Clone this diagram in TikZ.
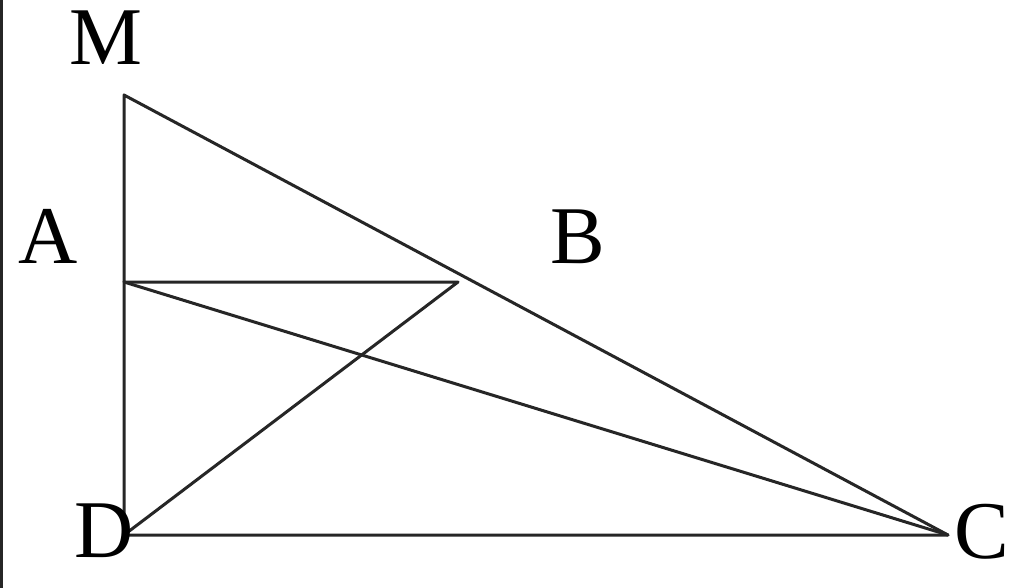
\documentclass[tikz,border=0pt]{standalone}
\usepackage{fontspec}
\setmainfont{Liberation Serif}
\begin{document}
\begin{tikzpicture}[x=1pt,y=-1pt,
  edge/.style={line width=3pt,color=black!85,line cap=round,line join=round},
  lbl/.style={inner sep=0pt,font=\fontsize{82}{90}\selectfont}]
\useasboundingbox (0,0) rectangle (1024,588);
\fill[white] (0,0) rectangle (1024,588);
\draw[line width=2.5pt,black!85] (1.5,0) -- (1.5,588);
\coordinate (M) at (124,95);
\coordinate (A) at (124,282);
\coordinate (B) at (458,282);
\coordinate (D) at (124,535);
\coordinate (C) at (948,535);
\draw[edge] (M) -- (D) -- (C) -- cycle;
\draw[edge] (A) -- (B) -- (D);
\draw[edge] (A) -- (C);
\node[lbl] (lM) at (106,38) {M};
\node[lbl] (lA) at (48,236) {A};
\node[lbl] (lB) at (578,237) {B};
\node[lbl] (lD) at (104,531) {D};
\node[lbl] (lC) at (982,532) {C};
\end{tikzpicture}
\end{document}
